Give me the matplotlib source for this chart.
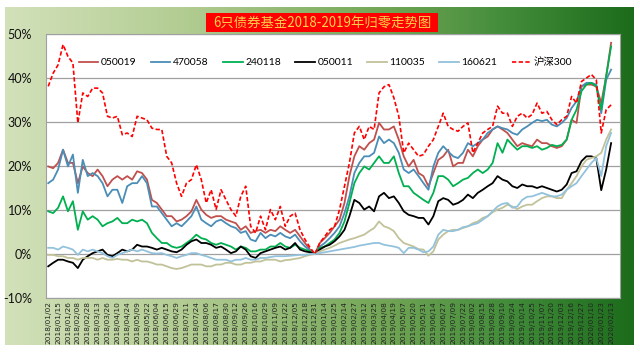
import numpy as np
import matplotlib
matplotlib.use('Agg')
import matplotlib.pyplot as plt
from matplotlib.colors import LinearSegmentedColormap
from matplotlib.patches import Rectangle

title = "6只债券基金2018-2019年归零走势图"

tick_dates = [
    "2018/01/02", "2018/01/15", "2018/01/26", "2018/02/08", "2018/02/28", "2018/03/13",
    "2018/03/26", "2018/04/10", "2018/04/24", "2018/05/09", "2018/05/22", "2018/06/04",
    "2018/06/15", "2018/06/29", "2018/07/11", "2018/07/24", "2018/08/06", "2018/08/17",
    "2018/08/30", "2018/09/12", "2018/09/26", "2018/10/16", "2018/10/29", "2018/11/09",
    "2018/11/22", "2018/12/05", "2018/12/18", "2018/12/31", "2019/01/14", "2019/01/25",
    "2019/02/14", "2019/02/27", "2019/03/12", "2019/03/25", "2019/04/08", "2019/04/19",
    "2019/05/07", "2019/05/20", "2019/05/31", "2019/06/14", "2019/06/27", "2019/07/09",
    "2019/07/22", "2019/08/02", "2019/08/15", "2019/08/28", "2019/09/10", "2019/09/24",
    "2019/10/14", "2019/10/25", "2019/11/07", "2019/11/20", "2019/12/03", "2019/12/16",
    "2019/12/27", "2020/01/10", "2020/01/23", "2020/02/13",
]

# values (%) sampled twice per tick interval
s050019 = [
    19.9, 19.5, 20.7, 23.7, 20.7, 20.7, 16.1, 19.9, 18.4, 17.7, 19.2, 17.7, 15.4, 16.9, 17.7, 16.9, 17.7, 16.9, 18.8, 18.4, 16.9, 12.3, 11.6,
    10.1, 8.6, 8.6, 7.4, 7.8, 8.6, 9.7, 12.3, 10.1, 8.9, 8.2, 8.6, 8.6, 7.8, 7.4, 7.0, 5.5, 6.3, 4.8, 5.2, 5.5, 4.8, 5.5, 5.2,
    6.3, 5.5, 4.8, 5.5, 4.0, 2.5, 1.0, 0.0, 2.5, 3.6, 4.8, 6.3, 7.8, 11.6, 17.7, 22.2, 24.5, 23.7, 25.2, 26.0, 29.8, 28.3,
    28.3, 29.0, 26.0, 22.2, 19.9, 21.4, 18.4, 17.7, 15.4, 18.4, 21.4, 22.2, 23.7, 19.9, 20.7, 20.7, 23.7, 22.2, 24.5, 26.0, 26.7, 28.3, 29.0, 28.3,
    27.5, 26.0, 24.5, 25.2, 24.8, 24.5, 26.0, 25.2, 25.2, 24.5, 24.1, 24.5, 26.0, 30.5, 29.8, 38.1, 38.5, 38.5, 38.1, 34.3, 40.4, 48.0,
]
s470058 = [
    16.1, 16.9, 19.2, 23.7, 19.9, 22.6, 13.9, 21.4, 17.7, 18.4, 17.7, 16.1, 13.1, 14.6, 14.6, 11.6, 15.4, 16.1, 16.1, 17.7, 16.1, 10.8, 10.8,
    9.3, 7.8, 6.3, 7.0, 6.3, 7.4, 8.6, 10.8, 7.8, 7.0, 6.3, 7.4, 7.8, 7.0, 6.3, 5.9, 4.8, 5.2, 3.3, 2.9, 4.8, 3.6, 4.4, 4.0,
    4.8, 4.0, 3.6, 4.4, 2.9, 1.7, 0.8, 0.0, 1.7, 2.5, 3.6, 4.8, 6.3, 9.3, 13.1, 18.4, 20.7, 22.2, 22.2, 23.0, 26.7, 25.2,
    26.0, 25.2, 23.0, 19.2, 18.4, 19.2, 17.7, 16.1, 14.6, 19.9, 23.0, 24.5, 23.3, 22.2, 21.8, 23.0, 25.2, 24.5, 25.2, 26.0, 27.5, 28.3, 29.0, 28.6,
    28.3, 27.5, 27.1, 28.3, 29.0, 29.8, 30.5, 30.2, 30.5, 29.4, 29.0, 29.8, 30.9, 33.2, 34.7, 38.1, 38.9, 38.9, 38.5, 32.0, 39.6, 41.9,
]
s240118 = [
    9.7, 9.3, 10.5, 13.1, 9.7, 12.0, 5.5, 9.7, 7.8, 8.6, 7.8, 6.3, 7.0, 7.4, 8.2, 7.0, 7.0, 7.8, 7.4, 7.8, 7.0, 4.8, 3.6,
    2.5, 2.5, 1.7, 1.4, 1.7, 2.5, 3.3, 4.4, 3.6, 3.3, 2.5, 2.1, 2.5, 2.1, 1.7, 1.0, 1.7, 1.4, 0.6, 0.6, 1.0, 1.0, 1.7, 1.7,
    2.5, 1.7, 1.4, 2.1, 1.4, 1.0, 0.6, 0.0, 1.4, 1.7, 2.5, 3.3, 4.8, 7.4, 11.6, 16.1, 18.4, 19.9, 19.2, 20.7, 22.2, 20.7,
    20.7, 22.2, 18.4, 15.4, 15.4, 13.9, 13.1, 12.3, 11.6, 13.9, 17.7, 17.7, 16.9, 15.4, 16.1, 16.9, 17.3, 18.4, 19.2, 18.4, 19.2, 20.7, 25.2, 23.0,
    26.0, 24.8, 23.7, 24.5, 24.5, 24.1, 24.5, 23.7, 24.1, 24.8, 24.5, 24.8, 26.0, 30.5, 32.8, 37.0, 38.5, 38.9, 38.1, 32.8, 40.4, 47.2,
]
s050011 = [
    -2.8, -2.0, -1.3, -1.3, -1.7, -2.0, -3.2, -1.3, -0.5, 0.2, 0.6, 1.0, -0.2, -0.5, 0.2, 1.0, 0.6, 1.0, 2.1, 1.7, 1.7, 1.4, 1.0,
    1.4, 1.0, 0.6, 0.4, 1.0, 2.1, 2.9, 3.3, 2.5, 2.5, 2.1, 1.4, 1.7, 1.0, 0.2, 0.6, 1.7, 1.0, -0.5, -0.9, 0.2, 0.6, 1.0, 1.4,
    1.7, 1.0, 1.4, 2.5, 1.0, 0.6, 0.4, 0.0, 1.0, 1.7, 2.1, 2.9, 4.0, 5.5, 8.6, 12.3, 11.6, 10.1, 10.8, 9.7, 13.1, 13.9,
    12.7, 13.1, 11.6, 9.7, 8.9, 8.6, 8.2, 8.2, 6.7, 8.6, 12.0, 12.7, 12.3, 11.2, 11.6, 12.3, 13.5, 12.7, 13.9, 14.6, 15.4, 16.1, 17.7, 16.9,
    16.5, 15.4, 15.0, 15.8, 15.4, 15.4, 15.0, 15.4, 15.0, 14.6, 14.2, 14.6, 15.8, 18.4, 18.8, 21.1, 22.2, 22.2, 21.8, 14.5, 19.2, 25.2,
]
s110035 = [
    -0.2, -0.2, -0.5, -0.5, -0.9, -0.9, -1.3, -0.9, -0.9, -0.9, -1.3, -0.9, -1.3, -1.3, -1.1, -1.3, -1.3, -1.7, -1.3, -1.7, -1.7, -2.0, -2.4,
    -2.4, -2.8, -3.2, -3.4, -3.2, -2.8, -2.4, -2.4, -2.4, -2.8, -2.8, -2.4, -2.4, -2.0, -2.0, -2.4, -2.4, -2.0, -2.0, -1.7, -1.7, -1.3, -1.3, -1.3,
    -1.7, -1.4, -1.3, -1.1, -0.9, -0.5, -0.2, 0.0, 0.6, 1.0, 1.4, 1.9, 2.5, 2.9, 3.3, 3.6, 4.0, 4.4, 5.2, 5.9, 7.4, 6.3,
    5.9, 5.2, 3.6, 2.5, 2.1, 1.7, 1.1, 1.0, -0.4, 0.6, 3.3, 4.4, 5.2, 5.5, 5.5, 5.9, 6.3, 7.0, 7.4, 8.2, 8.6, 9.5, 10.1, 10.5,
    11.2, 10.8, 10.2, 10.8, 11.2, 11.2, 12.0, 12.7, 13.1, 13.1, 12.7, 12.7, 14.6, 16.1, 17.7, 19.9, 21.4, 21.8, 22.2, 23.0, 26.0, 28.3,
]
s160621 = [
    1.4, 1.4, 1.0, 1.7, 1.4, 1.0, -0.2, 1.0, 0.6, 1.0, 0.6, 0.2, -0.5, -0.9, -0.2, 0.2, 0.6, 1.0, 0.6, 1.0, 0.6, 0.2, 0.1,
    0.2, -0.2, -0.5, -0.9, -0.5, -0.2, 0.2, 0.2, -0.2, -0.5, -0.9, -1.3, -1.3, -1.3, -1.7, -1.3, -1.3, -0.9, -1.3, -1.3, -0.9, -0.9, -0.7, -0.5,
    -0.5, -0.5, -0.4, -0.3, -0.2, -0.2, 0.0, 0.0, 0.2, 0.4, 0.6, 0.8, 1.0, 1.2, 1.4, 1.6, 1.9, 2.1, 2.3, 2.5, 2.5, 2.1,
    1.9, 1.7, 1.4, 0.2, 1.4, 1.4, 1.0, 0.4, 0.6, 1.7, 4.4, 5.5, 5.2, 5.2, 5.5, 6.1, 6.3, 6.7, 7.0, 7.8, 8.6, 9.7, 10.8, 11.4,
    11.6, 10.5, 10.8, 12.3, 13.0, 13.1, 13.5, 13.9, 13.5, 13.1, 13.1, 13.5, 14.6, 15.4, 16.1, 17.7, 19.2, 20.7, 21.8, 17.7, 24.5, 27.5,
]
hs300 = [
    38.1, 41.1, 43.0, 47.6, 44.9, 43.4, 29.8, 36.6, 35.8, 37.7, 37.7, 36.6, 31.3, 30.9, 31.3, 27.1, 27.5, 26.7, 31.3, 30.9, 30.5, 28.6, 28.3,
    28.3, 22.2, 20.7, 16.1, 13.1, 16.1, 16.9, 20.3, 16.9, 11.6, 14.6, 10.1, 14.6, 12.3, 10.1, 8.6, 13.1, 15.4, 6.3, 4.8, 8.6, 5.5, 10.1, 7.8,
    10.8, 6.3, 8.6, 9.3, 5.5, 3.3, 1.5, 0.0, 2.5, 4.0, 5.5, 6.3, 10.1, 15.4, 20.7, 27.5, 29.0, 26.0, 29.0, 28.3, 36.6, 38.0,
    38.5, 35.5, 31.3, 23.0, 25.2, 23.7, 22.2, 22.6, 24.5, 26.0, 29.0, 32.0, 29.0, 28.3, 27.9, 29.0, 29.8, 23.0, 25.2, 27.5, 28.3, 29.0, 33.6, 32.0,
    32.0, 29.0, 31.3, 32.0, 30.9, 31.7, 34.3, 32.0, 32.4, 30.5, 29.4, 30.5, 31.3, 35.8, 34.3, 39.2, 40.0, 40.8, 39.6, 27.5, 32.8, 33.9,
]

series = [
    ("050019", s050019, "#C0504D", "-"),
    ("470058", s470058, "#4A8DB6", "-"),
    ("240118", s240118, "#00B050", "-"),
    ("050011", s050011, "#000000", "-"),
    ("110035", s110035, "#C2C29A", "-"),
    ("160621", s160621, "#93C2DC", "-"),
    ("沪深300", hs300, "#FF0000", (0, (2.6, 1.4))),
]

W, H = 640, 353
fig = plt.figure(figsize=(6.4, 3.53), dpi=100)
fig.patch.set_facecolor("white")

# gradient chart background
bg = fig.add_axes([5 / W, (H - 345) / H, (634 - 5) / W, (345 - 7) / H])
bg.axis("off")
cmap = LinearSegmentedColormap.from_list(
    "g", [(0, "#D3E1BA"), (0.3, "#B0CB90"), (0.6, "#72A656"), (0.8, "#428C3A"), (1, "#1C6C1C")])
bg.imshow(np.linspace(0, 1, 256).reshape(1, -1), aspect="auto", cmap=cmap, extent=[0, 1, 0, 1])
bg.set_xlim(0, 1)
bg.set_ylim(0, 1)

# title box
fig.patches.append(Rectangle((206 / W, (H - 31.7) / H), 232 / W, 19 / H,
                             transform=fig.transFigure, facecolor="#FF0000", edgecolor="none", zorder=3))
fig.text(322 / W, (H - 22.3) / H, title, ha="center", va="center", color="#FFD24A",
         fontsize=9.6, family=["Noto Sans CJK SC", "DejaVu Sans"], zorder=4)

ax = fig.add_axes([46 / W, (H - 298) / H, (620 - 46) / W, (298 - 34) / H])
ax.set_facecolor("white")

n = len(hs300)
for name, vals, col, ls in series:
    assert len(vals) == n, name
    x = np.arange(len(vals))
    ax.plot(x, vals, color=col, lw=1.3 if name != "沪深300" else 1.2, ls=ls, label=name)

ax.set_ylim(-10, 50)
ax.set_yticks(np.arange(-10, 51, 10))
ax.set_yticklabels([f"{v}%" for v in range(-10, 51, 10)], fontsize=9, family="Lato", color="#111111")
ax.set_xlim(-0.45, 115.8)
ax.set_xticks(np.arange(len(tick_dates)) * 2)
ax.set_xticklabels(tick_dates, rotation=90, fontsize=5.3, family="DejaVu Sans", color="#222222")
ax.tick_params(axis="y", length=0, pad=10)
ax.tick_params(axis="x", length=0, pad=2)
ax.yaxis.grid(True, color="#A0A0A0", lw=0.9)
ax.set_axisbelow(True)
for sp in ax.spines.values():
    sp.set_color("#A0A0A0")
    sp.set_linewidth(0.8)

ax.legend(loc="center", bbox_to_anchor=(0.487, 0.892), ncol=7, frameon=False,
          prop={"family": ["Lato", "Noto Sans CJK SC"], "size": 7.5},
          handlelength=1.9, handletextpad=0.25, columnspacing=1.35)

fig.savefig("out.png", dpi=100)
